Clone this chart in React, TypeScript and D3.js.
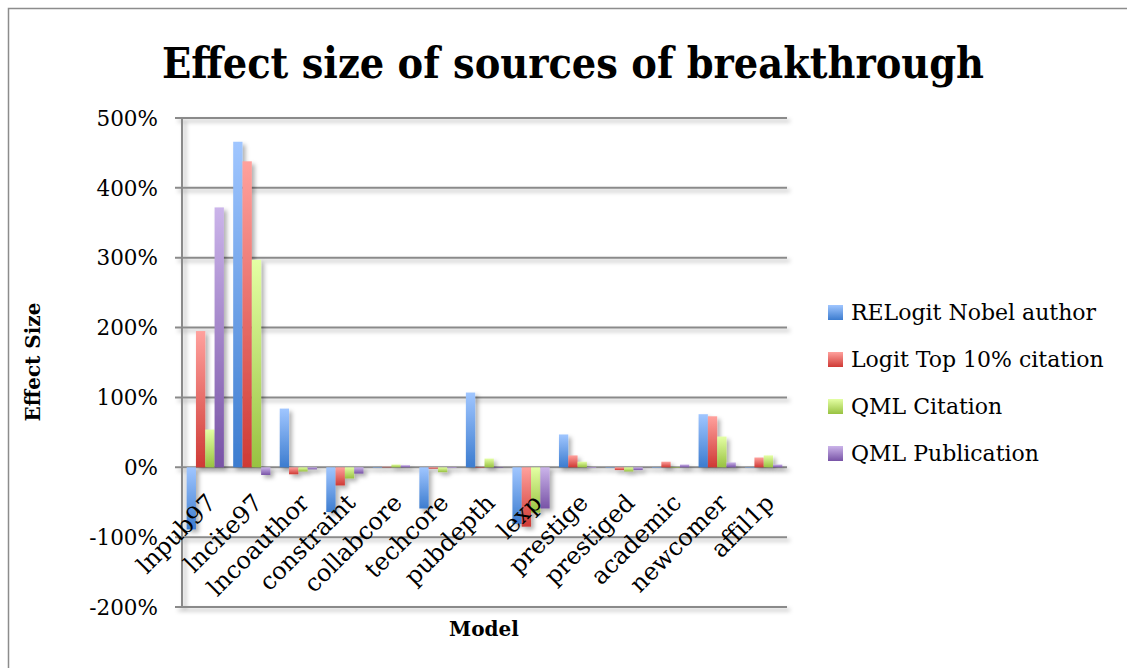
import React from "react";
import * as d3 from "d3";

// values, in percent
const categories = ["lnpub97", "lncite97", "lncoauthor", "constraint", "collabcore", "techcore", "pubdepth", "lexp", "prestige", "prestiged", "academic", "newcomer", "affil1p"];
const relogitNobel = [-89, 466, 84, -64, 0, -59, 107, -81, 47, 0, 0, 76, 0];
const logitTop10 = [195, 438, -10, -26, 0.8, -2, 0.5, -85, 17, -4, 8, 73, 14];
const qmlCitation = [54, 297, -6, -16, 4, -7, 12.5, -65, 8, -6, 0.5, 44, 17];
const qmlPublication = [372, -11, -3, -9, 3, -1, 0.5, -59, -1, -4, 4, 7, 4];
const yTicks = [-200, -100, 0, 100, 200, 300, 400, 500];

const seriesNames = ["RELogit Nobel author", "Logit Top 10% citation", "QML Citation", "QML Publication"];
const seriesValues = [relogitNobel, logitTop10, qmlCitation, qmlPublication];
const gradients = [
  ["#a0c6ff", "#3c7ccf"],
  ["#ffa19d", "#cf3a35"],
  ["#e4ffa4", "#98c241"],
  ["#cbb4ea", "#7853a6"],
];

const FONT = "'DejaVu Serif', serif";

export default function App() {
  const width = 1127;
  const height = 668;
  const plot = { left: 182, right: 787, top: 118, bottom: 607 };

  const x = d3.scaleBand().domain(categories).range([plot.left, plot.right]).paddingInner(0.2).paddingOuter(0.1);
  const xs = d3.scaleBand().domain(d3.range(4).map(String)).range([0, x.bandwidth()]);
  const y = d3.scaleLinear().domain([-200, 500]).range([plot.bottom, plot.top]);
  const step = (plot.right - plot.left) / categories.length;

  return (
    <div style={{ position: "absolute", left: 0, top: 0 }}>
      <svg width={width} height={height} style={{ display: "block", background: "#fff" }}>
        <defs>
          {gradients.map((g, i) => (
            <linearGradient key={i} id={`grad${i}`} x1="0" y1="0" x2="0" y2="1">
              <stop offset="0" stopColor={g[0]} />
              <stop offset="1" stopColor={g[1]} />
            </linearGradient>
          ))}
          <filter id="shadow" x="-30%" y="-30%" width="180%" height="180%">
            <feDropShadow dx="3" dy="3" stdDeviation="2" floodColor="#000" floodOpacity="0.3" />
          </filter>
        </defs>

        <rect x={8.5} y={8.5} width={width + 10} height={height + 10} fill="#fff" stroke="#8c8c8c" strokeWidth={1.5} />

        <text x={573} y={78} textAnchor="middle" fontFamily={FONT} fontWeight="bold" fontSize={43} textLength={822} lengthAdjust="spacingAndGlyphs" fill="#000">
          Effect size of sources of breakthrough
        </text>

        {/* gridlines */}
        <g filter="url(#shadow)">
          {yTicks.map((t) => (
            <line key={t} x1={plot.left - 7} x2={plot.right} y1={y(t)} y2={y(t)} stroke="#8a8a8a" strokeWidth={2} />
          ))}
          <line x1={plot.left} x2={plot.left} y1={plot.top} y2={plot.bottom} stroke="#8a8a8a" strokeWidth={2} />
        </g>

        {yTicks.map((t) => (
          <text key={t} x={158} y={y(t)} dy="0.36em" textAnchor="end" fontFamily={FONT} fontSize={21.5} fill="#000">
            {t}%
          </text>
        ))}

        {/* bars */}
        {seriesValues.map((vals, si) => (
          <g key={si} filter="url(#shadow)">
            {vals.map((v, ci) => {
              const x0 = (x(categories[ci]) as number) + (xs(String(si)) as number);
              const y0 = Math.min(y(v), y(0));
              const h = Math.abs(y(v) - y(0));
              return <rect key={ci} x={x0} y={y0} width={xs.bandwidth()} height={Math.max(h, 0.5)} fill={`url(#grad${si})`} />;
            })}
          </g>
        ))}

        {/* category labels */}
        {categories.map((c, i) => {
          const cx = plot.left + step * (i + 0.5) + 12;
          const cy = y(0) + 37;
          return (
            <text key={c} transform={`translate(${cx},${cy}) rotate(-45)`} textAnchor="end" fontFamily={FONT} fontSize={24} fill="#000">
              {c}
            </text>
          );
        })}

        <text transform={`translate(40,362) rotate(-90)`} textAnchor="middle" fontFamily={FONT} fontWeight="bold" fontSize={20} fill="#000">
          Effect Size
        </text>
        <text x={484} y={636} textAnchor="middle" fontFamily={FONT} fontWeight="bold" fontSize={20} fill="#000">
          Model
        </text>

        {/* legend */}
        {seriesNames.map((n, i) => {
          const ly = 312 + i * 47;
          return (
            <g key={n}>
              <rect x={828} y={ly - 7} width={15} height={15} fill={`url(#grad${i})`} />
              <text x={851} y={ly} dy="0.36em" fontFamily={FONT} fontSize={22} fill="#000">
                {n}
              </text>
            </g>
          );
        })}
      </svg>
    </div>
  );
}
